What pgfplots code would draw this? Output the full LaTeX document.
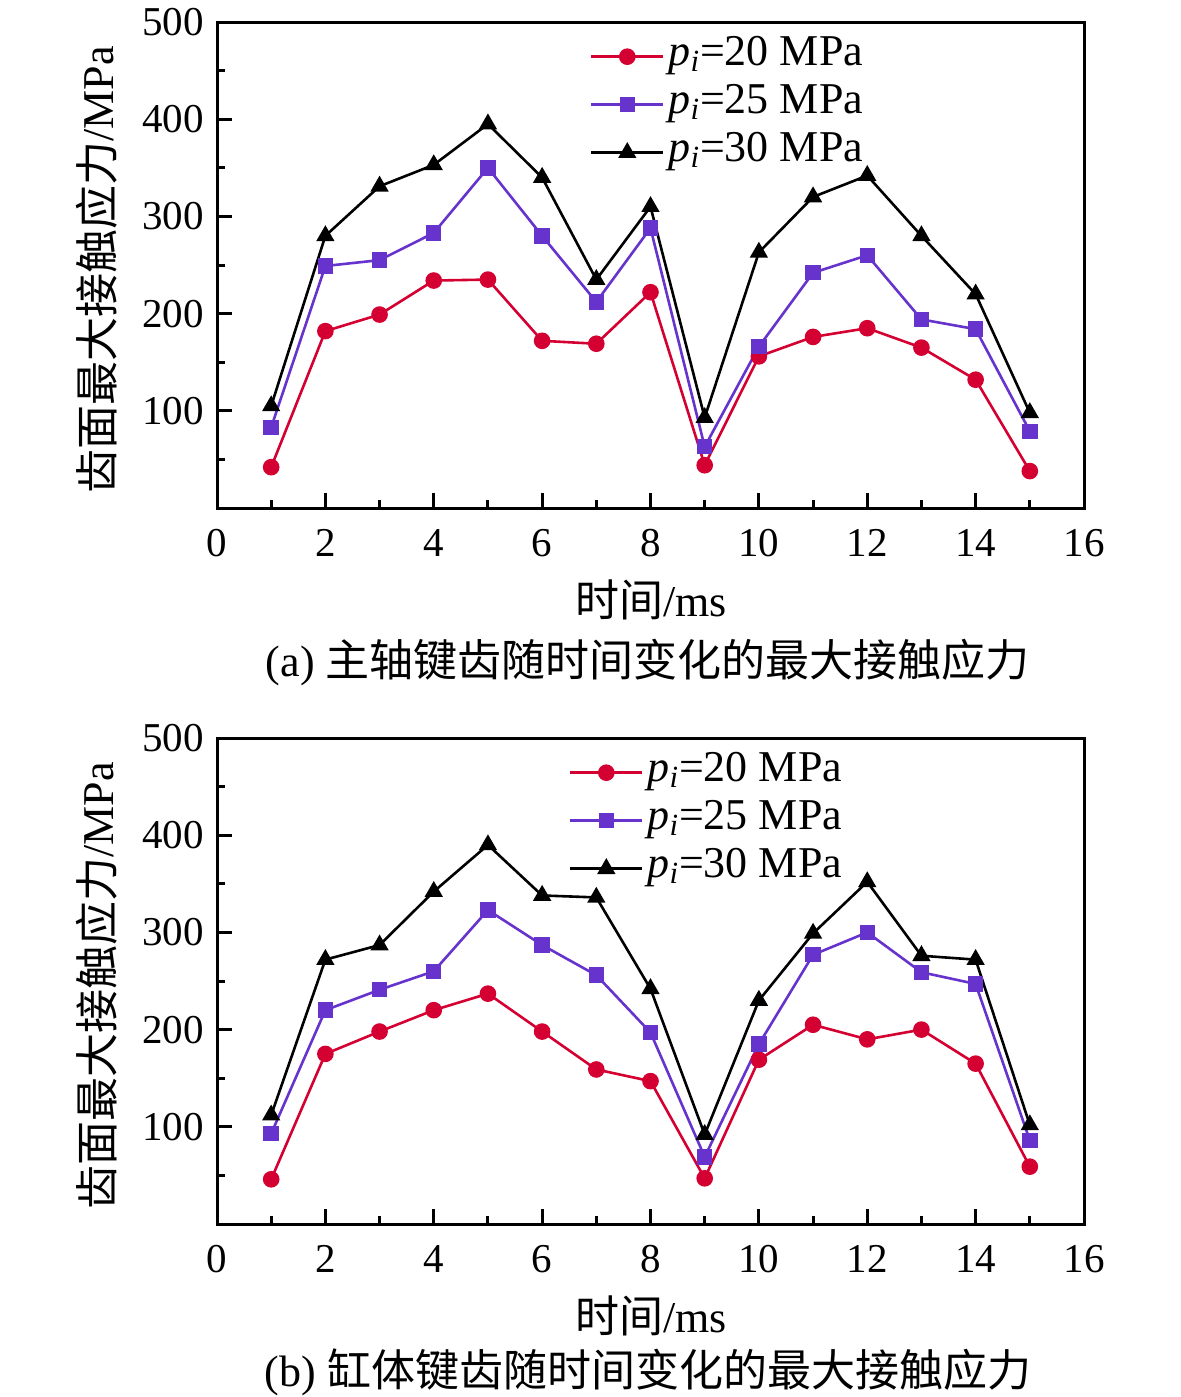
\documentclass[border=0pt]{standalone}
\usepackage{fontspec}
\setmainfont{Liberation Serif}
\newfontfamily\cjk{Noto Sans CJK SC}
\usepackage{pgfplots}
\pgfplotsset{compat=1.18}
\usepackage{pgfplotstable}
\definecolor{cred}{RGB}{213,0,50}
\definecolor{cpurple}{RGB}{102,51,204}

\pgfplotstableread{
x a b c
1 42 83 105
2 182 249 280
3 199 255 331
4 234 283 353
5 235 350 395
6 172 280 340
7 169 212 235
8 222 288 310
9 44 63 93
10 156 166 263
11 176 242 320
12 185 260 342
13 165 194 280
14 132 184 220
15 38 79 98
}\dataA

\pgfplotstableread{
x a b c
1 46 93 112
2 175 220 272
3 198 241 287
4 220 260 342
5 237 323 390
6 198 287 338
7 159 256 336
8 147 197 242
9 47 69 92
10 169 185 230
11 205 277 299
12 190 300 352
13 200 259 276
14 165 247 272
15 59 86 102
}\dataB

\pgfplotsset{
  myaxis/.style={
    width=433.5pt, height=243pt, scale only axis, clip=false,
    xmin=0, xmax=16, ymin=0, ymax=500,
    xtick={0,2,...,16}, minor x tick num=1,
    ytick={100,200,...,500}, minor ytick={50,150,...,450},
    tick align=inside, tick pos=left,
    major tick length=7.5pt, minor tick length=4pt,
    axis line style={line width=1.5pt},
    every tick/.style={line width=1.5pt, black},
    ticklabel style={font=\fontsize{20.5}{24}\selectfont},
    xticklabel style={yshift=-7pt},
    yticklabel style={xshift=-3pt},
    /pgf/number format/assume math mode=true,
    every axis x label/.style={at={(axis description cs:0.5006,-0.189)}, anchor=center, font=\fontsize{22}{26}\selectfont},
    every axis y label/.style={at={(axis description cs:-0.1384,0.49)}, anchor=center, rotate=90, font=\fontsize{22}{26}\selectfont},
    xlabel={{\cjk 时间}/ms},
    ylabel={{\cjk 齿面最大接触应力}/MPa},
    legend cell align=left,
    legend image code/.code={\draw[mark repeat=2,mark phase=2] plot coordinates {(0pt,0pt)(18pt,0pt)(36pt,0pt)};},
    legend style={draw=none, fill=none, anchor=north west, inner sep=0pt, outer sep=0pt,
      font=\fontsize{22}{24}\selectfont, row sep=0pt,
      nodes={inner xsep=2pt, inner ysep=2.5pt, text height=14pt, text depth=5pt}},
  },
  sred/.style={color=cred, line width=1.3pt, mark=*, mark size=3.5pt, mark options={solid, fill=cred, draw=cred}},
  spur/.style={color=cpurple, line width=1.3pt, mark=square*, mark size=3.2pt, mark options={solid, fill=cpurple, draw=cpurple}},
  sblk/.style={color=black, line width=1.3pt, mark=triangle*, mark size=4pt, mark options={solid, fill=black, draw=black}},
}

\begin{document}
\begin{tikzpicture}
\useasboundingbox (0,0) rectangle (590.5pt,-698.5pt);
\begin{axis}[myaxis, at={(108.5pt,-11pt)}, anchor=north west,
  legend style={at={(0.4302,0.978)}}]
\addplot[sred] table[x=x,y=a] {\dataA};
\addlegendentry{\textit{p}\textsubscript{\textit{i}}=20 MPa}
\addplot[spur] table[x=x,y=b] {\dataA};
\addlegendentry{\textit{p}\textsubscript{\textit{i}}=25 MPa}
\addplot[sblk] table[x=x,y=c] {\dataA};
\addlegendentry{\textit{p}\textsubscript{\textit{i}}=30 MPa}
\node[font=\fontsize{22}{26}\selectfont] at (axis description cs:0.497,-0.317) {(a) {\cjk 主轴键齿随时间变化的最大接触应力}};
\end{axis}
\begin{axis}[myaxis, at={(108.5pt,-369pt)}, anchor=north west,
  legend style={at={(0.406,0.978)}}]
\addplot[sred] table[x=x,y=a] {\dataB};
\addlegendentry{\textit{p}\textsubscript{\textit{i}}=20 MPa}
\addplot[spur] table[x=x,y=b] {\dataB};
\addlegendentry{\textit{p}\textsubscript{\textit{i}}=25 MPa}
\addplot[sblk] table[x=x,y=c] {\dataB};
\addlegendentry{\textit{p}\textsubscript{\textit{i}}=30 MPa}
\node[font=\fontsize{22}{26}\selectfont] at (axis description cs:0.497,-0.306) {(b) {\cjk 缸体键齿随时间变化的最大接触应力}};
\end{axis}
\end{tikzpicture}
\end{document}
